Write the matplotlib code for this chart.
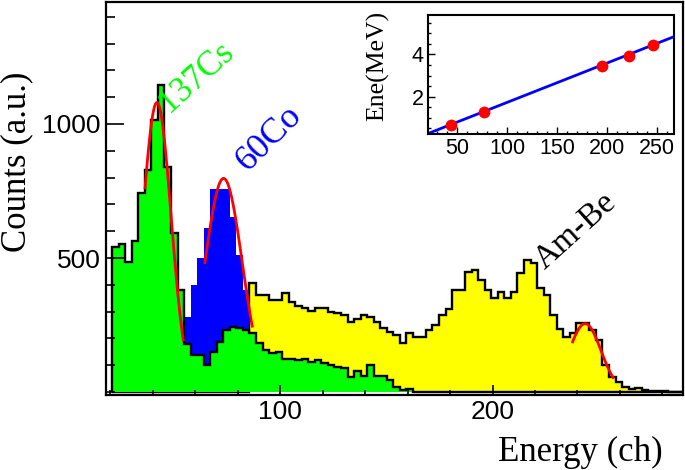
import numpy as np
import matplotlib
matplotlib.use("Agg")
from matplotlib import pyplot as plt
from matplotlib.ticker import MultipleLocator, FixedLocator

plt.rcParams['font.family'] = ['Liberation Sans', 'DejaVu Sans']

# histogram binning (channels)
bin_start = 20.8
bin_width = 3.08

# 137Cs spectrum (green)
cs_counts = [540, 551, 486, 565, 741, 828, 1015, 1145, 838, 592,
             380, 178, 140, 140, 100, 150, 185, 231, 244, 240,
             231, 219, 182, 157, 145, 150, 125, 125, 119, 125,
             113, 119, 109, 101, 92, 88, 55, 80, 60, 101,
             60, 60, 45, 20, 7, 12] + [0] * 42

# 60Co spectrum (blue)
co_counts = [0] * 10 + [150, 281, 399, 499, 611, 756, 756, 756, 654, 511, 380] \
    + [0] * 22 + [4, 4, 4, 4, 4, 0, 0, 0, 4, 0, 0, 4, 4, 0, 0, 0, 0, 4, 4,
                  0, 0, 0, 0, 4, 0, 0, 0, 0, 0, 0, 0, 0, 0, 4] + [0] * 11

# Am-Be spectrum (yellow)
ambe_counts = [0] * 21 + [407, 362, 362, 345, 345, 368, 335, 322, 312, 303,
                          315, 313, 300, 294, 287, 262, 272, 286, 280, 262,
                          238, 225, 213, 182, 219, 206, 206, 231, 250, 287,
                          310, 381, 381, 449, 455, 418, 381, 350, 374, 350,
                          374, 443, 493, 480, 387, 362, 287, 234, 206, 219,
                          256, 259, 231, 194, 101, 57, 38, 17, 10, 14,
                          7, 5, 3, 3, 2, 2, 1]

# gaussian fits (red): amplitude, mean, sigma, fit range
fit_amp = [1080, 797, 255]
fit_mean = [41.9, 73.3, 243.6]
fit_sigma = [6.7, 8.8, 7.5]
fit_lo = [36.3, 64.5, 237.7]
fit_hi = [54.3, 86.8, 256.8]

# calibration inset
cal_ch = [44, 77, 195, 222, 246]
cal_mev = [0.65, 1.28, 3.45, 3.94, 4.44]
cal_slope = 0.0186
cal_offset = -0.13

edges = bin_start + bin_width * np.arange(len(cs_counts) + 1)

fig = plt.figure(figsize=(6.85, 4.7), dpi=100)
ax = fig.add_axes([0.1547, 0.1596, 0.8423, 0.8361])

ax.stairs(ambe_counts, edges, fill=True, color='#ffff00', lw=0)
ax.stairs(ambe_counts, edges, color='black', lw=1.7)
ax.stairs(co_counts, edges, fill=True, color='#0000ff', lw=0)
ax.stairs(cs_counts, edges, fill=True, color='#00ff00', lw=0)
ax.stairs(cs_counts, edges, color='black', lw=1.7)

for a, m, s, lo, hi in zip(fit_amp, fit_mean, fit_sigma, fit_lo, fit_hi):
    xx = np.linspace(lo, hi, 100)
    ax.plot(xx, a * np.exp(-0.5 * ((xx - m) / s) ** 2), color='red', lw=2)

ax.set_xlim(17.9, 289.7)
ax.set_ylim(-11, 1455)
ax.xaxis.set_major_locator(FixedLocator([100, 200]))
ax.xaxis.set_minor_locator(MultipleLocator(20))
ax.yaxis.set_major_locator(FixedLocator([500, 1000]))
ax.yaxis.set_minor_locator(MultipleLocator(100))
ax.tick_params(axis='y', which='major', direction='in', length=13, width=1.2,
               labelsize=19, pad=4)
ax.tick_params(axis='y', which='minor', direction='in', length=6.5, width=1.2)
ax.tick_params(axis='x', which='major', direction='in', length=7, width=1.2,
               labelsize=19, pad=3.5)
ax.tick_params(axis='x', which='minor', direction='in', length=3.5, width=1.2)
for sp in ax.spines.values():
    sp.set_linewidth(1.6)

ax.text(47.5, 1040, '137Cs', color='#00ff00', fontsize=25, rotation=42,
        rotation_mode='anchor', ha='left', va='baseline', family='Liberation Serif')
ax.text(84.5, 820, '60Co', color='#0000ff', fontsize=26, rotation=45,
        rotation_mode='anchor', ha='left', va='baseline', family='Liberation Serif')
ax.text(224.5, 455, 'Am-Be', color='black', fontsize=24, rotation=42,
        rotation_mode='anchor', ha='left', va='baseline', family='Liberation Serif')

fig.text(0.0248, 0.655, 'Counts (a.u.)', rotation=90, ha='center', va='center',
         fontsize=25, family='Liberation Serif')
fig.text(0.847, 0.038, 'Energy (ch)', ha='center', va='center',
         fontsize=25, family='Liberation Serif')

# inset: calibration
ins = fig.add_axes([0.6248, 0.7149, 0.3591, 0.2532])
ins.set_xlim(21, 267)
ins.set_ylim(0.24, 5.86)
xl = np.array(ins.get_xlim())
ins.plot(xl, cal_slope * xl + cal_offset, color='#0000ff', lw=2)
ins.plot(cal_ch, cal_mev, 'o', color='red', ms=8.5, mec='none')
ins.xaxis.set_major_locator(MultipleLocator(50))
ins.xaxis.set_minor_locator(MultipleLocator(10))
ins.yaxis.set_major_locator(FixedLocator([2, 4]))
ins.yaxis.set_minor_locator(MultipleLocator(0.5))
ins.tick_params(which='major', direction='in', length=5, width=1, labelsize=15.5, pad=3)
ins.tick_params(which='minor', direction='in', length=2.5, width=1)
for sp in ins.spines.values():
    sp.set_linewidth(1.5)
fig.text(0.551, 0.86, 'Ene(MeV)', rotation=90, ha='center', va='center',
         fontsize=18.5, family='Liberation Serif')

fig.savefig('out.png', dpi=100)
